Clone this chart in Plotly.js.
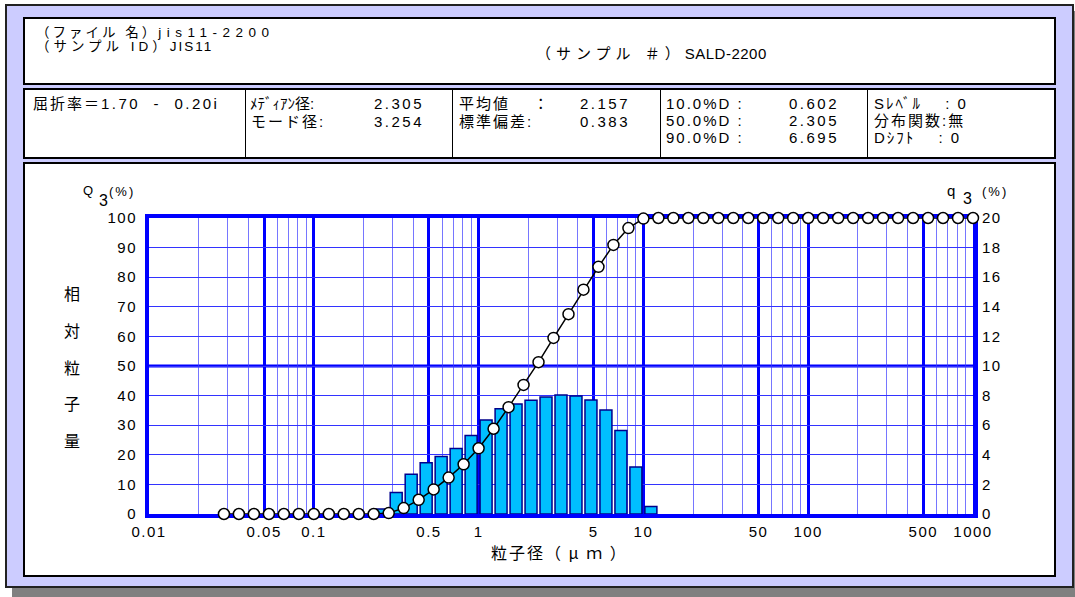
<!DOCTYPE html>
<html>
<head>
<meta charset="utf-8">
<script src="https://cdn.plot.ly/plotly-3.0.1.min.js"></script>
<style>
  html, body { margin:0; padding:0; width:1075px; height:597px; overflow:hidden; background:#ffffff; }
  body { position:relative; font-family:"Liberation Sans","Noto Sans CJK JP",sans-serif; color:#000; }
  .abs { position:absolute; }
  #shadow { left:12px; top:11px; width:1063px; height:586px; background:#808080; }
  #frame { left:5px; top:4px; width:1069px; height:584px; background:#ccccff; border:2px solid #222; box-sizing:border-box; }
  .box { background:#fff; border:2px solid #000; box-sizing:border-box; left:23px; width:1033px; }
  #hdr { top:17px; height:68px; }
  #info { top:88px; height:71px; }
  #plotbox { top:162px; height:415px; }
  .sep { width:1px; background:#000; top:88px; height:71px; }
  .t { position:absolute; font-size:15px; line-height:16px; white-space:pre; letter-spacing:2px; font-family:"Liberation Sans","Noto Sans CJK JP",sans-serif; }
  .h { font-size:13.5px; line-height:13px; }
  .n { letter-spacing:2.5px; }
  #chart { position:absolute; left:0; top:0; width:1075px; height:597px; }
  #chart [class*="tick"] text { letter-spacing:1.5px; }
  #chart .annotation-text { letter-spacing:2px; }
</style>
</head>
<body>
<div id="shadow" class="abs"></div>
<div id="frame" class="abs"></div>
<div id="hdr" class="abs box"></div>
<div id="info" class="abs box"></div>
<div id="plotbox" class="abs box"></div>
<div class="abs sep" style="left:245px"></div>
<div class="abs sep" style="left:452px"></div>
<div class="abs sep" style="left:660px"></div>
<div class="abs sep" style="left:867px"></div>

<div class="t h" style="left:36px;top:26px;letter-spacing:3px;">（ファイル 名）<span style="letter-spacing:5.5px;">jis11-2200</span></div>
<div class="t h" style="left:36px;top:40px;letter-spacing:4px;">（サンプル ID）<span style="letter-spacing:2px;">JIS11</span></div>
<div class="t h" style="left:536px;top:47px;font-size:15px;letter-spacing:5px;">（サンプル ＃）<span style="letter-spacing:0.5px;">SALD-2200</span></div>

<div class="t" style="left:33px;top:96px;">屈折率＝<span class="n">1.70  -  0.20i</span></div>

<div class="t" style="left:250px;top:96px;letter-spacing:0px;">ﾒﾃﾞｨｱﾝ径:</div>
<div class="t n" style="left:374px;top:96px;">2.305</div>
<div class="t" style="left:251px;top:114px;">モード径:</div>
<div class="t n" style="left:374px;top:114px;">3.254</div>

<div class="t" style="left:459px;top:96px;">平均値　 ：</div>
<div class="t n" style="left:580px;top:96px;">2.157</div>
<div class="t" style="left:459px;top:114px;">標準偏差:</div>
<div class="t n" style="left:580px;top:114px;">0.383</div>

<div class="t" style="left:666px;top:96px;">10.0%D :</div>
<div class="t n" style="left:789px;top:96px;">0.602</div>
<div class="t" style="left:666px;top:113px;">50.0%D :</div>
<div class="t n" style="left:789px;top:113px;">2.305</div>
<div class="t" style="left:666px;top:130px;">90.0%D :</div>
<div class="t n" style="left:789px;top:130px;">6.695</div>

<div class="t" style="left:874px;top:96px;">Sﾚﾍﾞﾙ　 : 0</div>
<div class="t" style="left:874px;top:113px;">分布関数:無</div>
<div class="t" style="left:874px;top:130px;">Dｼﾌﾄ　 : 0</div>

<div id="chart"></div>
<script>
// ---- data ----
const sizes = [0.0285,0.0351,0.0433,0.0534,0.0658,0.0811,0.1,0.1233,0.152,0.1874,0.231,0.2848,0.3511,0.4329,0.5337,0.6579,0.8111,1,1.233,1.52,1.874,2.31,2.848,3.511,4.329,5.337,6.579,8.111,10,12.33,15.2,18.74,23.1,28.48,35.11,43.29,53.37,65.79,81.11,100,123.3,152,187.4,231,284.8,351.1,432.9,533.7,657.9,811.1,1000];
// cumulative Q3 (%) at each size point
const Q3 = [0,0,0,0,0,0,0,0,0,0,0,0.3,2.0,4.8,8.3,12.3,16.8,22.2,28.8,36.1,43.6,51.3,59.5,67.5,75.8,83.5,90.9,96.6,99.8,100,100,100,100,100,100,100,100,100,100,100,100,100,100,100,100,100,100,100,100,100,100];
// frequency q3 (%) for each interval between consecutive size points
const q3 = [0,0,0,0,0,0,0,0,0,0,0.33,1.46,2.68,3.47,3.89,4.43,5.31,6.35,7.11,7.43,7.68,7.91,8.04,7.97,7.70,7.03,5.65,3.18,0.51,0,0,0,0,0,0,0,0,0,0,0,0,0,0,0,0,0,0,0,0,0];
const xTickVals = [0.01,0.05,0.1,0.5,1,5,10,50,100,500,1000];
const xTickText = ["0.01","0.05","0.1","0.5","1","5","10","50","100","500","1000"];
const xMinorVals = [0.02,0.03,0.04,0.06,0.07,0.08,0.09,0.2,0.3,0.4,0.6,0.7,0.8,0.9,2,3,4,6,7,8,9,20,30,40,60,70,80,90,200,300,400,600,700,800,900];
const yLeftTicks = [0,10,20,30,40,50,60,70,80,90,100];
const yRightTicks = [0,2,4,6,8,10,12,14,16,18,20];

// ---- build bar geometry on a linear log10 axis ----
const barX = [], barW = [], barY = [];
for (let i = 0; i < q3.length; i++) {
  if (q3[i] <= 0) continue;
  const a = Math.log10(sizes[i]), b = Math.log10(sizes[i+1]);
  barX.push((a + b) / 2);
  barW.push((b - a) * 0.8);
  barY.push(q3[i]);
}

const W = 1075, H = 597, L = 149, R = 102, T = 218, B = 83;
const pw = W - L - R, ph = H - T - B;
const px = x => (x - L) / pw;
const py = y => (H - B - y) / ph;

const blue = '#0000ff';
const tickFont = {family:'Liberation Sans, Arial, sans-serif', size:15, color:'#000'};
const jp = 'Noto Sans CJK JP, Liberation Sans, sans-serif';
const lat = 'Liberation Sans, Arial, sans-serif';

const traces = [
  {type:'bar', x:barX, y:barY, width:barW, xaxis:'x', yaxis:'y',
   marker:{color:'#00bfff', line:{color:'#00008b', width:1.5}}, hoverinfo:'skip'},
  {type:'scatter', mode:'lines+markers', x:sizes, y:Q3, xaxis:'x2', yaxis:'y2',
   line:{color:'#000', width:1.5},
   marker:{size:11, color:'#fff', line:{color:'#000', width:1.5}},
   cliponaxis:false, hoverinfo:'skip'}
];

const ann = [];
function label(x, y, text, size, fam) {
  ann.push({xref:'paper', yref:'paper', x:px(x), y:py(y), xanchor:'left', yanchor:'middle', showarrow:false,
    text:text, font:{family:fam || lat, size:size, color:'#000'}});
}
// Q3 (%) on the left, q3 (%) on the right
label(82, 190, 'Q', 13);
label(98, 200, '3', 16);
label(110, 192, '(%)', 13);
label(946, 190, 'q', 15);
label(962, 199, '3', 16);
label(983, 192, '(%)', 13);
const vchars = ['相','対','粒','子','量'];
vchars.forEach((c, i) => ann.push({xref:'paper', yref:'paper', x:px(73), y:py(293 + i*36.8),
  xanchor:'center', yanchor:'middle', showarrow:false, text:c, font:{family:jp, size:16, color:'#000'}}));
ann.push({xref:'paper', yref:'paper', x:px(559), y:py(552), xanchor:'center', yanchor:'middle', showarrow:false,
  text:'粒子径（ μ ｍ ）', font:{family:jp, size:16, color:'#000'}});

const layout = {
  width:W, height:H, margin:{l:L, r:R, t:T, b:B, pad:0},
  paper_bgcolor:'rgba(0,0,0,0)', plot_bgcolor:'rgba(0,0,0,0)',
  showlegend:false, bargap:0,
  xaxis:{type:'linear', range:[-2,3], visible:false, fixedrange:true},
  yaxis:{range:[0,20], side:'right', tickmode:'array', tickvals:yRightTicks, ticktext:yRightTicks.map(String),
    showgrid:false, zeroline:false, showline:true, linecolor:blue, linewidth:5,
    ticks:'outside', ticklen:1, tickcolor:'rgba(0,0,0,0)', tickfont:tickFont, layer:'below traces', fixedrange:true},
  xaxis2:{type:'log', range:[-2,3], overlaying:'x', side:'bottom', anchor:'y2',
    tickmode:'array', tickvals:xTickVals, ticktext:xTickText,
    showgrid:true, gridcolor:blue, gridwidth:3, zeroline:false,
    showline:true, mirror:true, linecolor:blue, linewidth:4,
    ticks:'outside', ticklen:1, tickcolor:'rgba(0,0,0,0)', tickfont:tickFont, layer:'below traces',
    minor:{tickmode:'array', tickvals:xMinorVals, showgrid:true, gridcolor:'rgba(60,60,255,0.7)', gridwidth:1, ticks:''},
    fixedrange:true},
  yaxis2:{range:[0,100], overlaying:'y', side:'left', anchor:'x2',
    tickmode:'array', tickvals:yLeftTicks, ticktext:yLeftTicks.map(String),
    showgrid:true, gridcolor:'#3333ff', gridwidth:1, zeroline:false,
    showline:true, linecolor:blue, linewidth:4,
    ticks:'outside', ticklen:5, tickcolor:'rgba(0,0,0,0)', tickfont:tickFont, layer:'below traces', fixedrange:true},
  shapes:[{type:'line', xref:'paper', x0:0, x1:1, yref:'y2', y0:50, y1:50, line:{color:blue, width:3}, layer:'below'}],
  annotations:ann
};

Plotly.newPlot('chart', traces, layout, {staticPlot:true, displayModeBar:false});
</script>
</body>
</html>
